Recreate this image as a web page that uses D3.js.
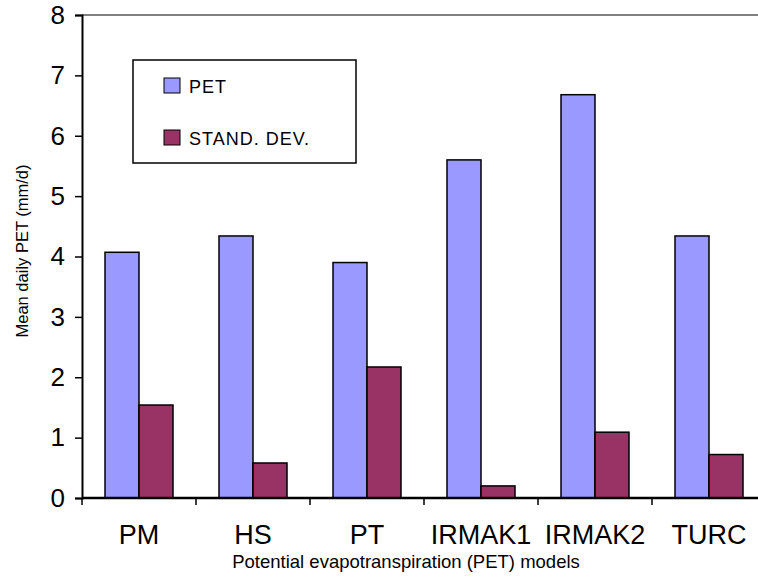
<!DOCTYPE html>
<html>
<head>
<meta charset="utf-8">
<script src="https://cdn.jsdelivr.net/npm/d3@7"></script>
<style>
  html, body { margin: 0; padding: 0; background: #fff; overflow: hidden; }
  svg { display: block; }
  svg text { font-family: "Liberation Sans", Arial, sans-serif; }
</style>
</head>
<body>
<div id="chart"></div>
<script>
// Chart data
const models = ["PM", "HS", "PT", "IRMAK1", "IRMAK2", "TURC"];
const petValues = [4.07, 4.34, 3.90, 5.60, 6.68, 4.34];
const sdValues = [1.54, 0.58, 2.17, 0.20, 1.09, 0.72];
const seriesNames = ["PET", "STAND. DEV."];
const yTicks = [0, 1, 2, 3, 4, 5, 6, 7, 8];

const width = 758, height = 581;
const margin = {top: 15, right: 0, bottom: 83, left: 82};
const innerWidth = width - margin.left - margin.right;
const innerHeight = height - margin.top - margin.bottom;
const bandStep = 114; // plot runs past the right edge of the picture

const svg = d3.select("#chart").append("svg")
    .attr("width", width).attr("height", height);
const g = svg.append("g").attr("transform", `translate(${margin.left},${margin.top})`);

// Scales
const x = d3.scaleBand().domain(models).range([0, bandStep * models.length]);
const x1 = d3.scaleBand().domain(seriesNames).range([0, 68]);
const y = d3.scaleLinear().domain([0, 8]).range([innerHeight, 0]);
const color = d3.scaleOrdinal().domain(seriesNames).range(["#9999ff", "#993366"]);

const rows = models.map((m, i) => ({model: m, values: [petValues[i], sdValues[i]]}));

// Top border
g.append("line")
    .attr("x1", 0).attr("x2", innerWidth)
    .attr("y1", y(8)).attr("y2", y(8))
    .attr("stroke", "#808080").attr("stroke-width", 2);

// Bars
const groupOffset = (x.bandwidth() - 68) / 2;
g.append("g")
    .selectAll("g")
    .data(rows)
    .join("g")
    .attr("transform", d => `translate(${x(d.model) + groupOffset},0)`)
    .selectAll("rect")
    .data(d => d.values.map((v, i) => ({key: seriesNames[i], value: v})))
    .join("rect")
    .attr("x", d => x1(d.key))
    .attr("y", d => y(d.value))
    .attr("width", x1.bandwidth())
    .attr("height", d => innerHeight - y(d.value))
    .attr("fill", d => color(d.key))
    .attr("stroke", "#000")
    .attr("stroke-width", 1.5);

// Y axis
const yAxis = g.append("g")
    .call(d3.axisLeft(y).tickValues(yTicks).tickSize(7).tickPadding(10).tickFormat(d3.format("d")));
yAxis.select(".domain").attr("stroke-width", 2);
yAxis.selectAll(".tick line").attr("stroke-width", 1.5);
yAxis.selectAll("text").attr("font-size", 26).attr("font-family", "Liberation Sans, Arial, sans-serif");

// X axis
g.append("line")
    .attr("x1", 0).attr("x2", innerWidth)
    .attr("y1", innerHeight).attr("y2", innerHeight)
    .attr("stroke", "#000").attr("stroke-width", 2.5);
const xAxis = g.append("g")
    .attr("transform", `translate(0,${innerHeight})`)
    .call(d3.axisBottom(x).tickSize(0).tickPadding(27));
xAxis.select(".domain").remove();
xAxis.selectAll("text").attr("font-size", 27).attr("font-family", "Liberation Sans, Arial, sans-serif");

// Category separator ticks
g.append("g")
    .selectAll("line")
    .data(models)
    .join("line")
    .attr("x1", d => x(d)).attr("x2", d => x(d))
    .attr("y1", innerHeight).attr("y2", innerHeight + 7)
    .attr("stroke", "#000").attr("stroke-width", 1.5);

// Axis titles
svg.append("text")
    .attr("x", 406)
    .attr("y", 568)
    .attr("text-anchor", "middle")
    .attr("font-size", 18.5)
    .text("Potential evapotranspiration (PET) models");

svg.append("text")
    .attr("transform", "translate(28,251) rotate(-90)")
    .attr("text-anchor", "middle")
    .attr("font-size", 16.5)
    .text("Mean daily PET (mm/d)");

// Legend
const legend = svg.append("g").attr("transform", "translate(133,60)");
legend.append("rect")
    .attr("width", 223).attr("height", 103)
    .attr("fill", "#fff").attr("stroke", "#000").attr("stroke-width", 1.5);
seriesNames.forEach((name, i) => {
    const row = legend.append("g").attr("transform", `translate(31,${18 + i * 52})`);
    row.append("rect")
        .attr("width", 16).attr("height", 15)
        .attr("fill", color(name)).attr("stroke", "#000").attr("stroke-width", 1);
    row.append("text")
        .attr("x", 25).attr("y", 14.5)
        .attr("font-size", 18)
        .attr("letter-spacing", 1)
        .text(name);
});
</script>
</body>
</html>
